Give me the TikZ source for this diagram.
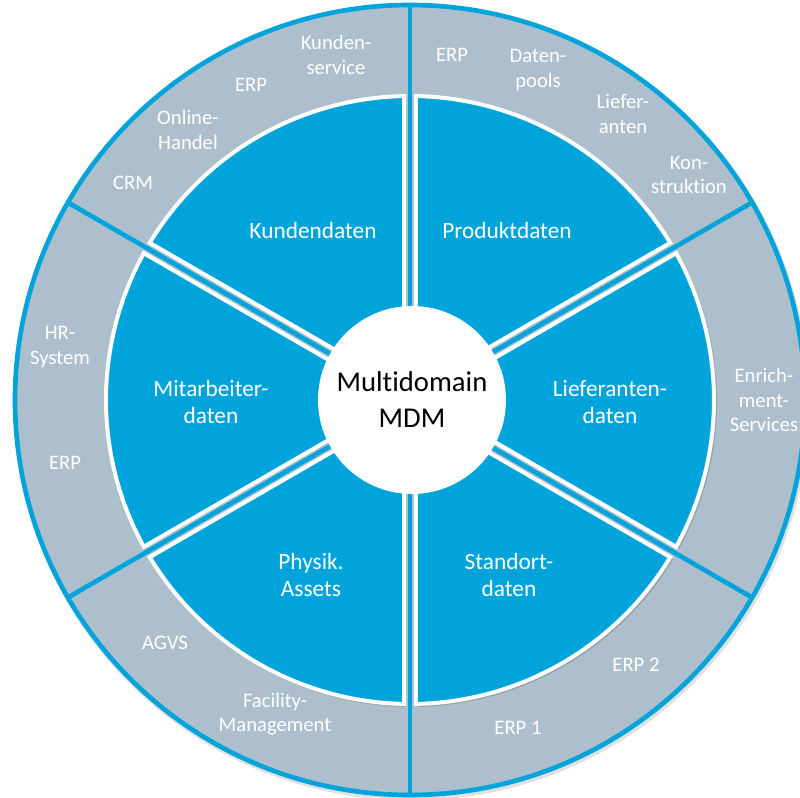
\documentclass[tikz,border=0pt]{standalone}
\usepackage{fontspec}
\setmainfont{Carlito}[RawFeature={-liga;-clig;-dlig;-calt}]
\definecolor{mblue}{RGB}{0,163,218}
\definecolor{mgrey}{RGB}{173,191,204}
\definecolor{mshadow}{RGB}{150,160,170}
\tikzset{
  ringtxt/.style={text=white, align=center, font=\fontsize{15.5}{18.5}\selectfont, inner sep=0pt},
  sectxt/.style={text=white, align=center, font=\fontsize{17.5}{20}\selectfont, inner sep=0pt},
  sepline/.style={mblue, line width=3.5pt},
  secfill/.style={fill=mblue, draw=white, line width=3pt, line join=miter},
  secshadow/.style={fill=mshadow}
}
\begin{document}
\begin{tikzpicture}[x=0.75pt,y=0.75pt]
\useasboundingbox (-410,-398) rectangle (390,400);
% outer soft shadow
\fill[black!12] (1.5,-2.5) circle[radius=398];
% ring
\fill[mgrey, draw=mblue, line width=3.5pt] (0,0) circle[radius=395];
\foreach \a in {90,30,-30,-90,-150,150}
  \draw[sepline] (0,0) -- (\a:395);
% inner sectors
\foreach \a/\b in {30/90,-30/30,-90/-30,-150/-90,150/210,90/150}{
  \fill[secshadow, shift={(1.5,-1.5)}] ({\a+4.3}:80) -- ({\a+1.13}:305.5)
     arc[start angle={\a+1.13}, end angle={\b-1.13}, radius=305.5] -- ({\b-4.3}:80) -- cycle;
  \filldraw[secfill] ({\a+4.3}:80) -- ({\a+1.13}:304)
     arc[start angle={\a+1.13}, end angle={\b-1.13}, radius=304] -- ({\b-4.3}:80) -- cycle;
}
% centre
\node[circle, fill=white, minimum size=141pt, inner sep=0pt, align=center,
      font=\fontsize{21.5}{27}\selectfont] (mdm) at (2,0) {Multidomain\\MDM};
% sector labels
\node[sectxt] (kunden) at (-97,170) {Kundendaten};
\node[sectxt] (produkt) at (97,170) {Produktdaten};
\node[sectxt] (mitarb) at (-199,-2) {Mitarbeiter-\\daten};
\node[sectxt] (liefer) at (200,-2) {Lieferanten-\\daten};
\node[sectxt] (physik) at (-99,-175) {Physik.\\Assets};
\node[sectxt] (standort) at (99,-175) {Standort-\\daten};
% ring labels
\node[ringtxt] (kservice) at (-74,345) {Kunden-\\service};
\node[ringtxt] (erpa) at (-159,315) {ERP};
\node[ringtxt] (online) at (-222,270) {Online-\\Handel};
\node[ringtxt] (crm) at (-277,217) {CRM};
\node[ringtxt] (erpb) at (42,345) {ERP};
\node[ringtxt] (pools) at (128,330) {Daten-\\pools};
\node[ringtxt] (lief) at (213,286) {Liefer-\\anten};
\node[ringtxt] (konstr) at (279,225) {Kon-\\struktion};
\node[ringtxt] (enrich) at (354,0) {Enrich-\\ment-\\Services};
\node[ringtxt] (erp2) at (226,-265) {ERP 2};
\node[ringtxt] (erp1) at (108,-328) {ERP 1};
\node[ringtxt] (facility) at (-135,-314) {Facility-\\Management};
\node[ringtxt] (agvs) at (-245,-243) {AGVS};
\node[ringtxt] (hr) at (-350,53) {HR-\\System};
\node[ringtxt] (erpc) at (-345,-63) {ERP};
\end{tikzpicture}
\end{document}
